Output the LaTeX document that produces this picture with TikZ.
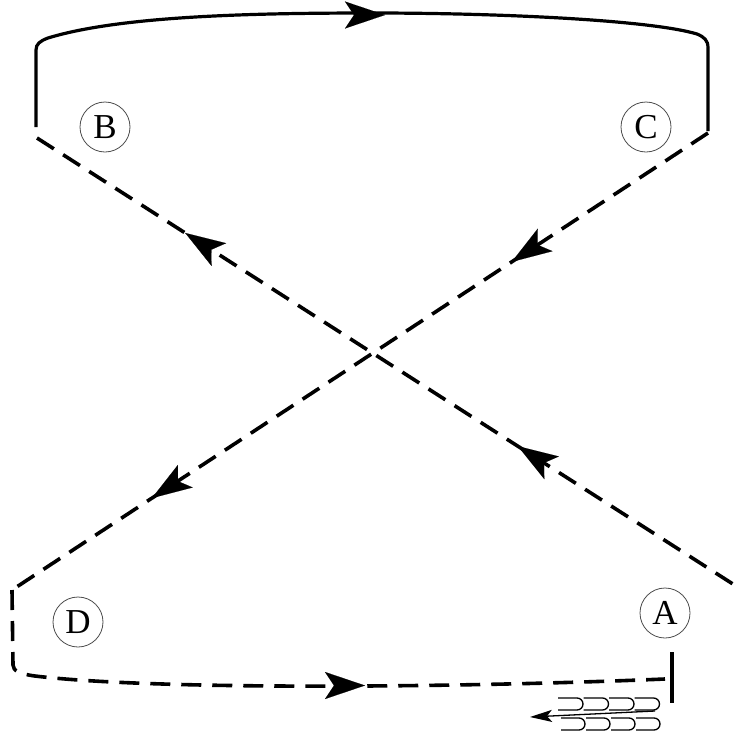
\documentclass[tikz,border=0pt]{standalone}
\usepackage{fontspec}
\setmainfont{Liberation Serif}
\usetikzlibrary{arrows.meta,calc}
\begin{document}
\begin{tikzpicture}[x=1pt,y=-1pt,
  solidline/.style={line width=3.2pt},
  dashline/.style={line width=3.6pt, dash pattern=on 20pt off 11pt},
  bigarr/.style={line width=0.1pt, -{Stealth[length=40pt,width=27pt,inset=9pt]}},
  smallarr/.style={line width=1.3pt, -{Stealth[length=22pt,width=12pt,inset=5pt]}},
  letter/.style={circle, draw=black!70, line width=0.8pt, minimum size=50pt, inner sep=0pt, font=\fontsize{35}{35}\selectfont},
  loopline/.style={line width=1.3pt}]
\useasboundingbox (0,0) rectangle (736,737);
% nodes
\node[letter] (B) at (105,127) {B};
\node[letter] (C) at (646,127) {C};
\node[letter] (D) at (78,622) {D};
\node[letter] (A) at (665,613) {A};
% coordinates
\coordinate (b1) at (37,138);
\coordinate (b2) at (736,586);
\coordinate (c1) at (708,133);
\coordinate (c2) at (12,590);
\coordinate (tl) at (36,127);
\coordinate (tr) at (708,131);
\coordinate (dend) at (665,679);
\coordinate (s1) at (672,652);
\coordinate (s2) at (672,703);
\coordinate (f1) at (655,711);
\coordinate (f2) at (530,717);
% top solid path
\draw[solidline] (tl) -- (36,50) .. controls (36,44) and (40,41) .. (48,38)
  .. controls (120,16) and (250,13) .. (372,13)
  .. controls (500,13) and (650,20) .. (697,34)
  .. controls (704,37) and (708,40) .. (708,48) -- (tr);
% dashed crossing lines
\draw[dashline] (b1) -- (b2);
\draw[dashline] (c1) -- (c2);
% D path
\draw[dashline] (c2) -- (13,665) .. controls (13,671) and (20,674) .. (35,676)
  .. controls (150,690) and (450,688) .. (dend);
% solid bar near A
\draw[solidline] (s1) -- (s2);
% arrowheads
\draw[bigarr] (378,15) -- (385,15);
\draw[bigarr] ($(b1)!0.220!(b2)$) -- ($(b1)!0.212!(b2)$);
\draw[bigarr] ($(b1)!0.696!(b2)$) -- ($(b1)!0.688!(b2)$);
\draw[bigarr] ($(c1)!0.274!(c2)$) -- ($(c1)!0.282!(c2)$);
\draw[bigarr] ($(c1)!0.791!(c2)$) -- ($(c1)!0.799!(c2)$);
\draw[bigarr] (358,685.5) -- (365,685.5);
% small arrow with loops
\draw[smallarr] (f1) -- (f2);
\foreach \i in {0,1,2,3} {
  \draw[loopline] ({558+25.5*\i},698) -- ({558+25.5*\i+19},698) arc[start angle=-90,end angle=90,radius=6] -- ({558+25.5*\i},710);
  \draw[loopline] ({561+25*\i},718) -- ({561+25*\i+18},718) arc[start angle=-90,end angle=90,radius=6] -- ({561+25*\i},730);
}
\end{tikzpicture}
\end{document}
